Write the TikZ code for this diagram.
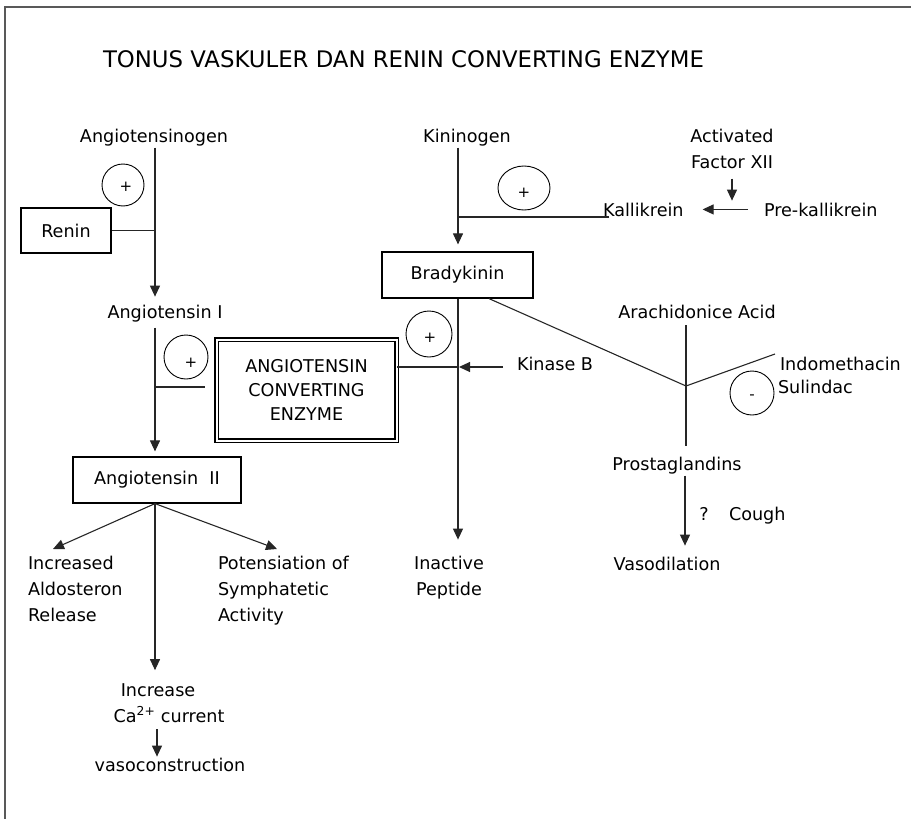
\documentclass[tikz,border=0pt]{standalone}
\usepackage{fontspec}
\setmainfont{DejaVu Sans}
\usetikzlibrary{arrows.meta,shapes.geometric}
\begin{document}
\begin{tikzpicture}[x=1pt,y=-1pt,
  txt/.style={inner sep=0pt, outer sep=0pt, font=\fontsize{17.6}{26}\selectfont},
  boxnode/.style={draw, line width=1.2pt, inner sep=0pt, font=\fontsize{17.6}{26}\selectfont},
  ln/.style={line width=1.1pt, black!85},
  arr/.style={line width=1.1pt, black!85, -{Triangle[width=10pt,length=11pt]}},
  ring/.style={draw, circle, line width=0.9pt, inner sep=0pt},
  sign/.style={inner sep=0pt, font=\fontsize{15}{15}\selectfont}]
\useasboundingbox (0,0) rectangle (911,819);
\draw[line width=2pt, black!65] (911,7) -- (5,7) -- (5,819);

% column coordinates
\coordinate (cA) at (155,0);
\coordinate (cB) at (458,0);
\coordinate (cC) at (157,0);
\coordinate (cP) at (685,0);
\coordinate (jn) at (686,386);
\coordinate (ind) at (775,354);
\coordinate (jk) at (458,367);
\coordinate (aceL) at (205,387);

% title
\node[txt, anchor=base west, font=\fontsize{22.8}{26}\selectfont] (title) at (103,67) {TONUS VASKULER DAN RENIN CONVERTING ENZYME};

% left column
\node[txt, anchor=base] (angen) at (154,142) {Angiotensinogen};
\node[boxnode, minimum width=90pt, minimum height=45pt] (renin) at (66,230.5) {Renin};
\node[ring, minimum size=42pt] (p1) at (123,185) {};
\node[sign] (p1s) at (126,187) {+};
\node[txt, anchor=base] (ang1) at (165,318) {Angiotensin I};
\node[ring, minimum size=44pt] (p2) at (186,357) {};
\node[sign] (p2s) at (191,363) {+};
\node[boxnode, minimum width=168pt, minimum height=46pt] (ang2) at (157,480) {Angiotensin\ \ II};
\node[draw, double, double distance=2pt, line width=1.2pt, minimum width=180pt, minimum height=101pt,
      inner sep=0pt, align=center, font=\fontsize{17.6}{24}\selectfont] (ace) at (306.5,390)
      {ANGIOTENSIN\\CONVERTING\\ENZYME};

\node[txt, align=left, anchor=north west] (ald) at (28,556.6) {Increased\\Aldosteron\\Release};
\node[txt, align=left, anchor=north west] (pot) at (218,556.6) {Potensiation of\\Symphatetic\\Activity};
\node[txt, anchor=base] (inc) at (158,696) {Increase};
\node[txt, anchor=base] (ca) at (169,722) {Ca\textsuperscript{2+} current};
\node[txt, anchor=base] (vc) at (170,771) {vasoconstruction};

% middle column
\node[txt, anchor=base] (kin) at (467,142) {Kininogen};
\node[boxnode, minimum width=151pt, minimum height=46pt] (brady) at (457.5,275) {Bradykinin};
\node[ring, ellipse, minimum width=52pt, minimum height=44pt] (p3) at (524,188) {};
\node[sign] (p3s) at (524,193) {+};
\node[txt, anchor=base west] (kal) at (603,216) {Kallikrein};
\node[txt, align=center, anchor=north] (f12) at (732,129) {Activated\\Factor XII};
\node[txt, anchor=base west] (pre) at (764,216) {Pre-kallikrein};
\node[ring, minimum size=46pt] (p4) at (429,334) {};
\node[sign] (p4s) at (430,338) {+};
\node[txt, anchor=base west] (kb) at (517,370) {Kinase B};
\node[txt, align=center, anchor=north] (inact) at (449,556.6) {Inactive\\Peptide};

% right column
\node[txt, anchor=base] (ara) at (697,318) {Arachidonice Acid};
\node[txt, anchor=base west] (indo) at (780,370) {Indomethacin};
\node[txt, anchor=base west] (sul) at (778,393) {Sulindac};
\node[ring, minimum size=44pt] (m1) at (752,393) {};
\node[sign] (m1s) at (752,397) {-};
\node[txt, anchor=base] (pg) at (677,470) {Prostaglandins};
\node[txt, anchor=base] (q) at (704,520) {?};
\node[txt, anchor=base west] (cough) at (729,520) {Cough};
\node[txt, anchor=base] (vasd) at (667,570) {Vasodilation};

% connectors: renin-angiotensin
\draw[arr, shorten <=2pt, shorten >=8pt] (angen.south -| cA) -- (ang1.north -| cA);
\draw[ln] (renin.east) -- (renin.east -| cA);
\draw[arr, shorten <=6pt, shorten >=5pt] (ang1.south -| cA) -- (ang2.north -| cA);
\draw[ln] (aceL -| cA) -- (aceL);
\draw[arr] (ang2.south -| cA) -- ([xshift=25pt,yshift=7.6pt]ald.north west);
\draw[arr] (ang2.south -| cA) -- ([xshift=59pt,yshift=7.6pt]pot.north west);
\draw[arr, shorten >=13pt] (ang2.south -| cA) -- (inc.north -| cA);
\draw[arr, shorten <=7pt, shorten >=1pt] (ca.south -| cC) -- (vc.north -| cC);

% kinin system
\draw[arr, shorten <=2pt, shorten >=7pt] (kin.south -| cB) -- (brady.north -| cB);
\draw[ln] ([xshift=6pt,yshift=-1pt]kal.base west) -- ([yshift=-1pt]kal.base west -| cB);
\draw[arr, shorten <=10pt, shorten >=2pt] (f12.south) -- (f12.south |- kal.north);
\draw[arr] ([xshift=-16pt]pre.west) -- ([xshift=19pt]kal.east);
\draw[arr, shorten >=17pt] (brady.south -| cB) -- (inact.north -| cB);
\draw[ln] (ace.east |- jk) -- (jk);
\draw[arr, shorten >=1pt] ([xshift=-14pt]kb.west |- jk) -- (jk);

% arachidonic acid
\draw[ln] ([xshift=31.5pt]brady.south) -- (jn) -- (ind);
\draw[ln, shorten <=7pt, shorten >=11pt] (ara.south -| jn) -- (pg.north -| jn);
\draw[arr, shorten <=2pt, shorten >=11pt] (pg.south -| cP) -- (vasd.north -| cP);
\end{tikzpicture}
\end{document}
